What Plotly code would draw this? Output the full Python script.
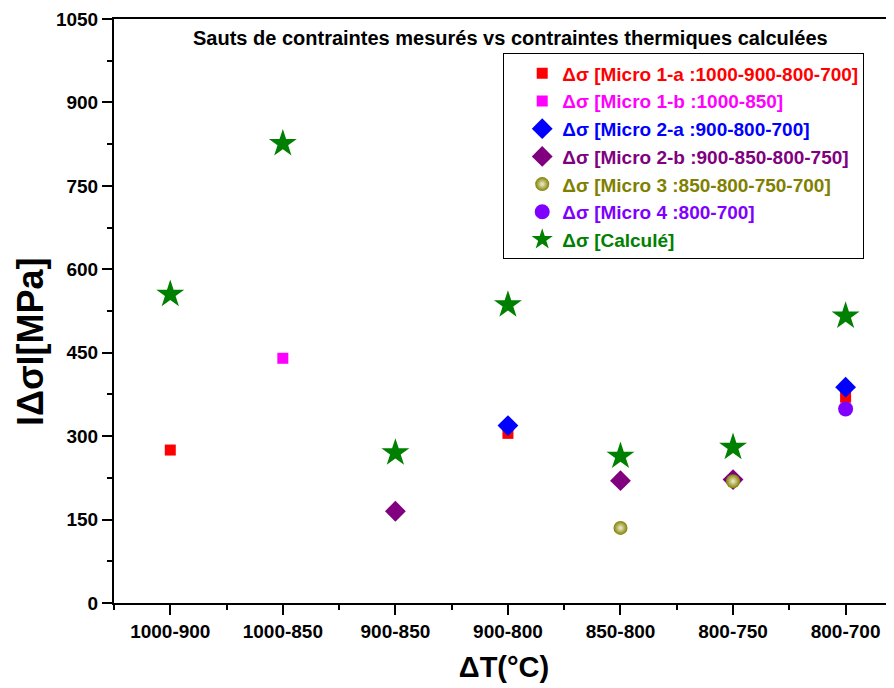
import plotly.graph_objects as go

categories = ["1000-900", "1000-850", "900-850", "900-800", "850-800", "800-750", "800-700"]
y_ticks = [0, 150, 300, 450, 600, 750, 900, 1050]

micro1a_x = ["1000-900", "900-800", "800-700"]
micro1a_y = [275, 305, 370]
micro1b_x = ["1000-850"]
micro1b_y = [440]
micro2a_x = ["900-800", "800-700"]
micro2a_y = [319, 388]
micro2b_x = ["900-850", "850-800", "800-750"]
micro2b_y = [165, 220, 222]
micro3_x = ["850-800", "800-750"]
micro3_y = [135, 219]
micro4_x = ["800-700"]
micro4_y = [349]
calc_x = categories
calc_y = [555, 826, 270, 536, 264, 280, 516]

idx = {c: i for i, c in enumerate(categories)}
def pos(xs):
    return [idx[c] for c in xs]

FONT = "Arial, Liberation Sans, sans-serif"

def nm(text, color):
    return f'<span style="color:{color}"><b>{text}</b></span>'

fig = go.Figure()
fig.add_trace(go.Scatter(x=pos(micro1a_x), y=micro1a_y, mode="markers",
    marker=dict(symbol="square", size=11, color="#ff0000"),
    name=nm("Δσ [Micro 1-a :1000-900-800-700]", "#ff0000")))
fig.add_trace(go.Scatter(x=pos(micro1b_x), y=micro1b_y, mode="markers",
    marker=dict(symbol="square", size=11, color="#ff00ff"),
    name=nm("Δσ [Micro 1-b :1000-850]", "#ff00ff")))
fig.add_trace(go.Scatter(x=pos(micro2a_x), y=micro2a_y, mode="markers",
    marker=dict(symbol="diamond", size=16, color="#0000ff"),
    name=nm("Δσ [Micro 2-a :900-800-700]", "#0000ff")))
fig.add_trace(go.Scatter(x=pos(micro2b_x), y=micro2b_y, mode="markers",
    marker=dict(symbol="diamond", size=16, color="#800080"),
    name=nm("Δσ [Micro 2-b :900-850-800-750]", "#800080")))
fig.add_trace(go.Scatter(x=pos(micro3_x), y=micro3_y, mode="markers",
    marker=dict(symbol="circle", size=14, color="#808000",
                gradient=dict(type="radial", color="#f0f0d0")),
    name=nm("Δσ [Micro 3 :850-800-750-700]", "#808000")))
fig.add_trace(go.Scatter(x=pos(micro4_x), y=micro4_y, mode="markers",
    marker=dict(symbol="circle", size=15, color="#8000ff"),
    name=nm("Δσ [Micro 4 :800-700]", "#8000ff")))
fig.add_trace(go.Scatter(x=pos(calc_x), y=calc_y, mode="markers",
    marker=dict(symbol="star", size=21, color="#008000"),
    name=nm("Δσ [Calculé]", "#008000")))

# page has an 8px body margin; compensate so the plot area sits at x 114..894, y 19..603
fig.update_layout(
    width=886, height=680,
    margin=dict(l=106, r=0, t=11, b=85),
    paper_bgcolor="white", plot_bgcolor="white",
    font=dict(family=FONT, color="black", size=19),
    showlegend=True,
    legend=dict(x=0.499, y=0.941, xanchor="left", yanchor="top",
                bgcolor="white", bordercolor="black", borderwidth=1,
                font=dict(size=19, family=FONT), tracegroupgap=0,
                indentation=18),
    annotations=[
        dict(text="<b>Sauts de contraintes mesurés vs contraintes thermiques calculées</b>",
             x=0.508, y=0.968, xref="paper", yref="paper",
             xanchor="center", yanchor="middle", showarrow=False,
             font=dict(size=20, family=FONT)),
        dict(text="<b>IΔσI[MPa]</b>", textangle=-90,
             x=-0.1064, y=0.447, xref="paper", yref="paper",
             xanchor="center", yanchor="middle", showarrow=False,
             font=dict(size=36, family=FONT)),
    ],
)
fig.update_xaxes(
    range=[-0.5, 6.43], tickvals=list(range(len(categories))), ticktext=[f"<b>{c}</b>" for c in categories],
    showline=True, linecolor="black", linewidth=2, mirror=True,
    ticks="outside", ticklen=10, tickwidth=2, tickcolor="black",
    minor=dict(tick0=-0.5, dtick=1, ticks="outside", ticklen=5, tickwidth=2, tickcolor="black"),
    showgrid=False, zeroline=False,
    tickfont=dict(size=19, family=FONT),
    title=dict(text="<b>ΔT(°C)</b>", font=dict(size=29, family=FONT), standoff=16),
)
fig.update_yaxes(
    range=[0, 1050], tickvals=y_ticks, ticktext=[f"<b>{v}</b>" for v in y_ticks],
    showline=True, linecolor="black", linewidth=2,
    ticks="outside", ticklen=10, tickwidth=2, tickcolor="black",
    minor=dict(tick0=75, dtick=150, ticks="outside", ticklen=5, tickwidth=2, tickcolor="black"),
    showgrid=False, zeroline=False,
    tickfont=dict(size=19, family=FONT),
)

fig.write_html("out.html")
